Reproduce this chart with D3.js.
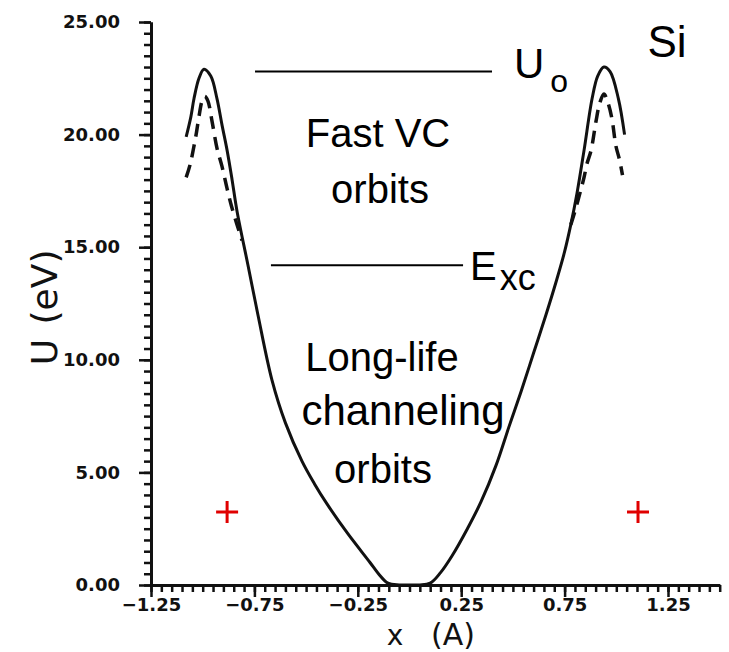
<!DOCTYPE html>
<html>
<head>
<meta charset="utf-8">
<script src="https://cdn.jsdelivr.net/npm/d3@7"></script>
<style>
  html, body { margin: 0; padding: 0; background: #fff; }
  svg { display: block; }
</style>
</head>
<body>
<script>
// Potential energy U(x) across the channel, solid = full potential
const solidX = [-1.08, -1.057, -1.042, -1.018, -0.994, -0.961, -0.931, -0.906, -0.882, -0.858, -0.834,
                -0.781, -0.733, -0.665, -0.60, -0.52, -0.46, -0.399, -0.30, -0.191, -0.15, -0.104, -0.05, 0.0,
                0.05, 0.10, 0.15, 0.206, 0.28, 0.346, 0.418, 0.48, 0.54, 0.60, 0.66, 0.71, 0.75, 0.78, 0.81,
                0.844, 0.883, 0.91, 0.94, 0.97, 1.01, 1.04];
const solidU = [19.9, 20.8, 21.6, 22.5, 22.9, 22.6, 21.6, 20.4, 19.3, 18.0, 16.6,
                14.2, 12.0, 9.1, 7.2, 5.5, 4.5, 3.6, 2.3, 1.0, 0.5, 0.08, 0.0, 0.0,
                0.0, 0.08, 0.55, 1.3, 2.5, 3.7, 5.3, 7.0, 8.6, 10.3, 12.0, 13.5, 14.8, 16.0, 17.4,
                19.3, 21.6, 22.6, 23.0, 22.8, 21.6, 20.0];

// Dashed variants near the atomic rows
const dashLeftX = [-1.08, -1.06, -1.04, -1.03, -1.018, -1.003, -0.99, -0.975, -0.955, -0.931, -0.907, -0.882, -0.86, -0.834, -0.81];
const dashLeftU = [18.1, 18.7, 19.6, 20.1, 20.8, 21.5, 21.7, 21.5, 20.6, 19.4, 18.6, 17.6, 16.8, 16.0, 15.3];
const dashRightX = [0.78, 0.80, 0.83, 0.844, 0.858, 0.878, 0.902, 0.92, 0.94, 0.96, 0.979, 0.998, 1.015, 1.03];
const dashRightU = [16.0, 16.6, 17.6, 18.1, 18.7, 19.3, 20.6, 21.4, 21.8, 21.4, 20.7, 19.5, 18.9, 18.2];

// Energy levels
const levelNames = ["U0", "Exc"];
const levelU = [22.8, 14.2];
const levelX0 = [-0.747, -0.67];
const levelX1 = [0.399, 0.259];

// Atom row markers
const atomX = [-0.882, 1.105];
const atomU = [3.24, 3.24];

// Axis ticks
const xMajorTicks = [-1.25, -0.75, -0.25, 0.25, 0.75, 1.25];
const yMajorTicks = [0, 5, 10, 15, 20, 25];

const W = 729, H = 652;
const svg = d3.select("body").append("svg").attr("width", W).attr("height", H);

const x = d3.scaleLinear().domain([-1.25, 1.5]).range([151, 719.7]);
const y = d3.scaleLinear().domain([0, 25]).range([585, 22]);

const xMinorTicks = d3.range(0, 56).map(i => -1.25 + i * 0.05);
const yMinorTicks = d3.range(0, 51).map(i => i * 0.5);

const ink = "#111";
const fmt = d3.format(".2f");

// X axis
const gx = svg.append("g").attr("transform", `translate(0,${y(0)})`);
gx.append("g").call(d3.axisBottom(x).tickValues(xMinorTicks).tickSize(7).tickSizeOuter(0).tickFormat(""));
gx.append("g").call(d3.axisBottom(x).tickValues(xMajorTicks).tickSize(12).tickSizeOuter(0).tickPadding(1).tickFormat(fmt));

// Y axis
const gy = svg.append("g").attr("transform", `translate(${x(-1.25)},0)`);
gy.append("g").call(d3.axisLeft(y).tickValues(yMinorTicks).tickSize(7).tickSizeOuter(0).tickFormat(""));
gy.append("g").call(d3.axisLeft(y).tickValues(yMajorTicks).tickSize(12).tickSizeOuter(0).tickPadding(19).tickFormat(fmt));

svg.selectAll(".domain").attr("stroke", ink).attr("stroke-width", 3);
svg.selectAll(".tick line").attr("stroke", ink).attr("stroke-width", 2.5);
svg.selectAll(".tick text")
  .attr("fill", ink)
  .style("font-family", "'DejaVu Sans', sans-serif")
  .style("font-weight", "bold")
  .style("font-size", "18px");

// Axis titles
svg.append("text").attr("x", 395).attr("y", 645).attr("text-anchor", "middle")
  .style("font-family", "'DejaVu Sans', sans-serif").style("font-size", "28px").attr("fill", ink).text("x");
svg.append("text").attr("x", 453).attr("y", 645).attr("text-anchor", "middle")
  .style("font-family", "'DejaVu Sans', sans-serif").style("font-size", "30px").attr("fill", ink).text("(A)");

const yl = svg.append("g").attr("transform", "translate(57,0)");
yl.append("text").attr("transform", "translate(0,352) rotate(-90)").attr("text-anchor", "middle")
  .style("font-family", "'DejaVu Sans', sans-serif").style("font-size", "36px").attr("fill", ink).text("U");
yl.append("text").attr("transform", "translate(0,287) rotate(-90)").attr("text-anchor", "middle")
  .style("font-family", "'DejaVu Sans', sans-serif").style("font-size", "36px").attr("fill", ink).text("(eV)");

// Curves
const line = d3.line().x(d => x(d[0])).y(d => y(d[1])).curve(d3.curveCatmullRom.alpha(0.5));
const zip = (a, b) => a.map((v, i) => [v, b[i]]);

svg.append("path").datum(zip(solidX, solidU)).attr("d", line)
  .attr("fill", "none").attr("stroke", ink).attr("stroke-width", 3).attr("stroke-linejoin", "round");

[zip(dashLeftX, dashLeftU), zip(dashRightX, dashRightU)].forEach(pts => {
  svg.append("path").datum(pts).attr("d", line)
    .attr("fill", "none").attr("stroke", ink).attr("stroke-width", 3.5)
    .attr("stroke-dasharray", "13,8");
});

// Energy level lines
levelNames.forEach((n, i) => {
  svg.append("line")
    .attr("x1", x(levelX0[i])).attr("x2", x(levelX1[i]))
    .attr("y1", y(levelU[i])).attr("y2", y(levelU[i]))
    .attr("stroke", "#000").attr("stroke-width", 2);
});

// Atom markers
atomX.forEach((ax, i) => {
  const cx = x(ax), cy = y(atomU[i]), s = 11;
  svg.append("path")
    .attr("d", `M${cx - s},${cy}H${cx + s}M${cx},${cy - s}V${cy + s}`)
    .attr("stroke", "#e00000").attr("stroke-width", 3).attr("fill", "none");
});

// Annotations
const ann = (tx, ty, str, size) => svg.append("text").attr("x", tx).attr("y", ty)
  .attr("text-anchor", "middle")
  .style("font-family", "'Liberation Sans', Arial, sans-serif")
  .style("font-size", (size || 40) + "px").attr("fill", "#000").text(str);

ann(378, 147, "Fast VC");
ann(380, 203, "orbits");
ann(382, 371, "Long-life");
ann(403, 425, "channeling", 42);
ann(383, 483, "orbits");
ann(667, 57, "Si", 44);

const uo = svg.append("text").attr("x", 514).attr("y", 78)
  .style("font-family", "'Liberation Sans', Arial, sans-serif").style("font-size", "42px").attr("fill", "#000");
uo.append("tspan").text("U");
uo.append("tspan").attr("dx", 6).attr("dy", 14).style("font-size", "32px").text("o");

const exc = svg.append("text").attr("x", 470).attr("y", 280)
  .style("font-family", "'Liberation Sans', Arial, sans-serif").style("font-size", "40px").attr("fill", "#000");
exc.append("tspan").text("E");
exc.append("tspan").attr("dx", 3).attr("dy", 10).style("font-size", "36px").text("xc");
</script>
</body>
</html>
